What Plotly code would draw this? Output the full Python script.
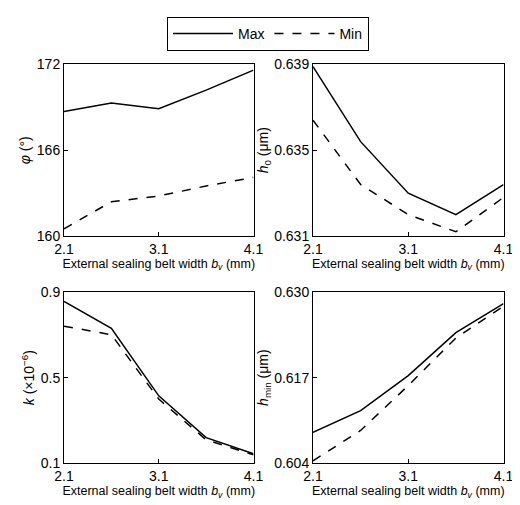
import plotly.graph_objects as go

x = [2.1, 2.6, 3.1, 3.6, 4.1]
phi_max = [168.7, 169.3, 168.9, 170.2, 171.6]
phi_min = [160.5, 162.4, 162.8, 163.5, 164.1]
h0_max = [0.6389, 0.6354, 0.6330, 0.6320, 0.6334]
h0_min = [0.6364, 0.6334, 0.6320, 0.6312, 0.6328]
k_max = [0.855, 0.73, 0.415, 0.22, 0.145]
k_min = [0.74, 0.70, 0.40, 0.21, 0.14]
hmin_max = [0.6087, 0.6120, 0.6173, 0.6238, 0.6282]
hmin_min = [0.6044, 0.6090, 0.6158, 0.6230, 0.6278]

panels = [
    (phi_max, phi_min, [160, 172], [160, 166, 172], ["160", "166", "172"], "<i>φ</i> (°)"),
    (h0_max, h0_min, [0.631, 0.639], [0.631, 0.635, 0.639], ["0.631", "0.635", "0.639"], "<i>h</i><sub>0</sub> (μm)"),
    (k_max, k_min, [0.1, 0.9], [0.1, 0.5, 0.9], ["0.1", "0.5", "0.9"], "<i>k</i> (×10<sup>−6</sup>)"),
    (hmin_max, hmin_min, [0.604, 0.630], [0.604, 0.617, 0.630], ["0.604", "0.617", "0.630"], "<i>h</i><sub>min</sub> (μm)"),
]

xdoms = [[0.092, 0.471], [0.590, 0.971]]
ydoms = [[0.550, 0.901], [0.085, 0.436]]
font = dict(family="Liberation Sans, Arial", size=14, color="black")

fig = go.Figure()
layout = dict(width=520, height=505, margin=dict(l=0, r=0, t=0, b=0),
              plot_bgcolor="white", paper_bgcolor="white", font=font,
              legend=dict(orientation="h", x=0.5, xanchor="center", y=0.998, yanchor="top",
                          bordercolor="black", borderwidth=1, font=dict(size=14),
                          itemwidth=60, tracegroupgap=0))

for i, (ymax, ymin, rng, tv, tt, title) in enumerate(panels):
    n = "" if i == 0 else str(i + 1)
    fig.add_trace(go.Scatter(x=x, y=ymax, mode="lines", name="Max", showlegend=(i == 0),
                             line=dict(color="black", width=1.5), xaxis="x" + n, yaxis="y" + n))
    fig.add_trace(go.Scatter(x=x, y=ymin, mode="lines", name="Min", showlegend=(i == 0),
                             line=dict(color="black", width=1.5, dash="dash"), xaxis="x" + n, yaxis="y" + n))
    ax = dict(showgrid=False, zeroline=False, showline=True, linecolor="black", linewidth=1,
              mirror=True, ticks="inside", ticklen=4, tickcolor="black", tickfont=dict(size=14))
    layout["xaxis" + n] = dict(ax, domain=xdoms[i % 2], range=[2.1, 4.1], tickvals=[2.1, 3.1, 4.1],
                               ticktext=["2.1", "3.1", "4.1"], anchor="y" + n,
                               title=dict(text="External sealing belt width <i>b<sub>v</sub></i> (mm)",
                                          standoff=0, font=dict(size=12.5)))
    layout["yaxis" + n] = dict(ax, domain=ydoms[i // 2], range=rng, tickvals=tv, ticktext=tt,
                               anchor="x" + n, title=dict(text=title, standoff=2, font=dict(size=14)))

fig.update_layout(**layout)
fig.write_html("out.html")
